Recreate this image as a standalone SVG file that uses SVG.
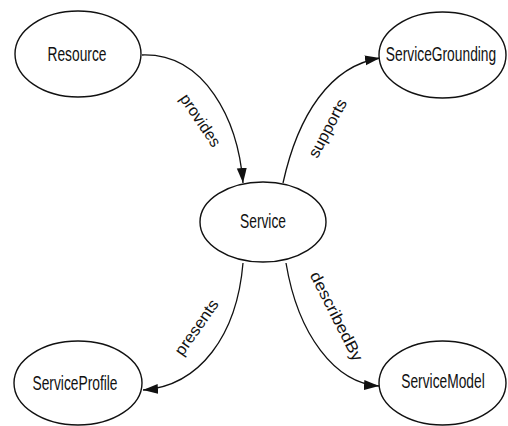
<svg xmlns="http://www.w3.org/2000/svg" width="508" height="426" viewBox="0 0 508 426">
<style>
.node ellipse{fill:#fff;stroke:#111;stroke-width:1.4}
.node text{font-family:"Liberation Sans",Arial,sans-serif;font-size:20px;fill:#111;text-anchor:middle}
.edge{fill:none;stroke:#111;stroke-width:1.3;marker-end:url(#arr)}
.lbl{font-family:"Liberation Sans",Arial,sans-serif;font-size:16px;fill:#111;text-anchor:middle}
</style>
<defs>
<marker id="arr" markerUnits="userSpaceOnUse" markerWidth="16" markerHeight="12" refX="15" refY="5" orient="auto">
<path d="M0,0 L15,5 L0,10 Z" fill="#111"/>
</marker>
</defs>
<rect width="508" height="426" fill="#fff"/>
<g id="connectors">
<path class="edge" d="M142,55 C205,53 238,120 243,183"/>
<path class="edge" d="M283,183 C298,115 330,66 380,58"/>
<path class="edge" d="M243,263 C237,335 200,386 143,390"/>
<path class="edge" d="M286,263 C298,335 335,383 379,386"/>
<text class="lbl" transform="translate(201,120) rotate(56)" y="6" textLength="60" lengthAdjust="spacingAndGlyphs">provides</text>
<text class="lbl" transform="translate(327,128) rotate(-62)" y="6" textLength="64" lengthAdjust="spacingAndGlyphs">supports</text>
<text class="lbl" transform="translate(196,327) rotate(-55)" y="6" textLength="64" lengthAdjust="spacingAndGlyphs">presents</text>
<text class="lbl" transform="translate(337,316) rotate(63)" y="6" textLength="98" lengthAdjust="spacingAndGlyphs">describedBy</text>
</g>
<g id="Resource" class="node">
<ellipse cx="78" cy="54" rx="63" ry="43"/>
<text transform="translate(77,61) scale(0.69,1)">Resource</text>
</g>
<g id="ServiceGrounding" class="node">
<ellipse cx="442.5" cy="55" rx="63.5" ry="43"/>
<text transform="translate(441,61) scale(0.69,1)">ServiceGrounding</text>
</g>
<g id="Service" class="node">
<ellipse cx="263" cy="222" rx="63" ry="40"/>
<text transform="translate(263,228) scale(0.69,1)">Service</text>
</g>
<g id="ServiceProfile" class="node">
<ellipse cx="78" cy="383" rx="64" ry="42"/>
<text transform="translate(75,390) scale(0.69,1)">ServiceProfile</text>
</g>
<g id="ServiceModel" class="node">
<ellipse cx="442.5" cy="383" rx="63.5" ry="42"/>
<text transform="translate(443,388) scale(0.69,1)">ServiceModel</text>
</g>
</svg>
